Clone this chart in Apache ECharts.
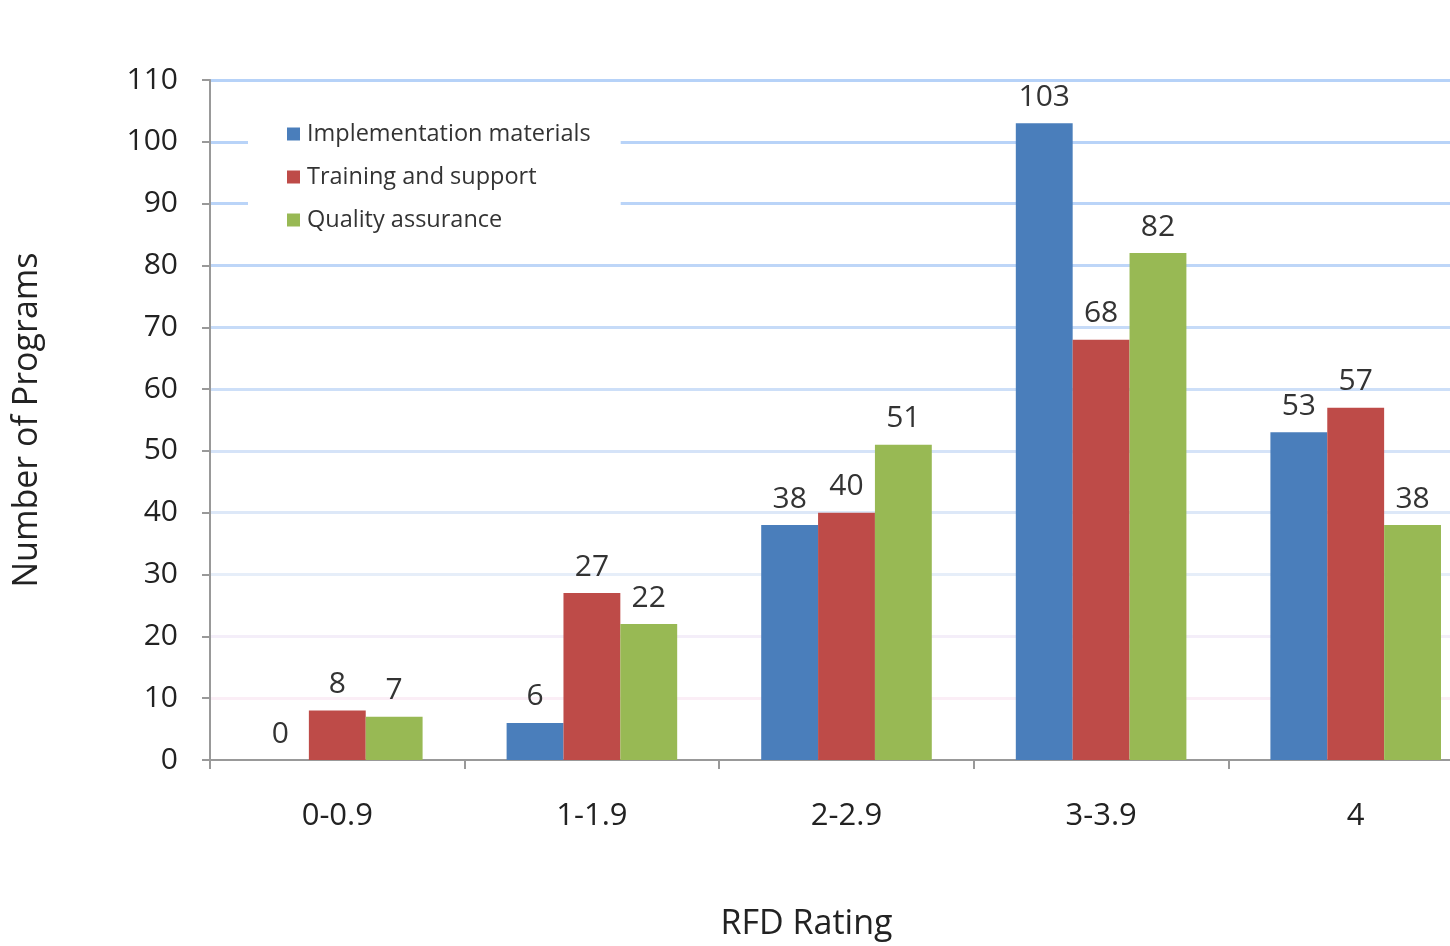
<!DOCTYPE html>
<html>
<head>
<meta charset="utf-8">
<script src="https://cdn.jsdelivr.net/npm/echarts@6/dist/echarts.min.js"></script>
<style>
html,body{margin:0;padding:0;background:#fff;overflow:hidden;width:1450px;height:946px;}
#c{width:1483px;height:946px;}
</style>
</head>
<body>
<div id="c"></div>
<script>
const categories = ['0-0.9', '1-1.9', '2-2.9', '3-3.9', '4'];
const seriesNames = ['Implementation materials', 'Training and support', 'Quality assurance'];
const implementation = [0, 6, 38, 103, 53];
const training = [8, 27, 40, 68, 57];
const quality = [7, 22, 51, 82, 38];
const yTicks = [0, 10, 20, 30, 40, 50, 60, 70, 80, 90, 100, 110];

const colors = ['#4a7ebb', '#be4b48', '#98b954'];
const gridColors = ['#ffffff', '#fbeef6', '#f4eef9', '#e6eef9', '#dde8f8', '#d5e3f8', '#cddff8', '#c6dbf8', '#bed6f8', '#bad4f8', '#b8d3f8', '#b6d2f8'];
const font = 'Open Sans';

const chart = echarts.init(document.getElementById('c'));
const values = [implementation, training, quality];

chart.setOption({
  backgroundColor: '#ffffff',
  animation: false,
  textStyle: { fontFamily: font },
  legend: {
    orient: 'vertical',
    left: 248,
    top: 110,
    backgroundColor: '#ffffff',
    padding: [12, 30, 12, 39],
    itemWidth: 13,
    itemHeight: 13,
    itemGap: 19,
    icon: 'rect',
    textStyle: { fontFamily: font, fontSize: 23.5, color: '#333', padding: [0, 0, 0, 2] },
    data: seriesNames
  },
  grid: { left: 210, width: 1273, top: 80, height: 684 },
  xAxis: {
    type: 'category',
    data: categories,
    name: 'RFD Rating',
    nameLocation: 'middle',
    nameGap: 147,
    nameTextStyle: { fontSize: 34, color: '#222', fontFamily: font, padding: [0, 80, 0, 0] },
    axisLine: { lineStyle: { color: '#999', width: 2 } },
    axisTick: { show: true, length: 9, lineStyle: { color: '#999', width: 2 } },
    axisLabel: { fontSize: 31, color: '#222', margin: 41, fontFamily: font }
  },
  yAxis: {
    type: 'value',
    min: yTicks[0],
    max: yTicks[yTicks.length - 1],
    interval: 10,
    name: 'Number of Programs',
    nameLocation: 'middle',
    nameGap: 166,
    nameTextStyle: { fontSize: 34, color: '#222', fontFamily: font },
    axisLine: { show: true, lineStyle: { color: '#999', width: 2 } },
    axisTick: { show: true, length: 8, lineStyle: { color: '#999', width: 2 } },
    axisLabel: { fontSize: 30, color: '#222', margin: 32, fontFamily: font },
    splitLine: { show: true, lineStyle: { color: gridColors, width: 3 } }
  },
  series: seriesNames.map((n, i) => ({
    name: n,
    type: 'bar',
    data: values[i],
    barGap: '0%',
    barCategoryGap: '33%',
    itemStyle: { color: colors[i] },
    label: {
      show: true,
      position: 'top',
      distance: 11,
      fontSize: 30,
      color: '#333',
      fontFamily: font
    }
  }))
});
</script>
</body>
</html>
